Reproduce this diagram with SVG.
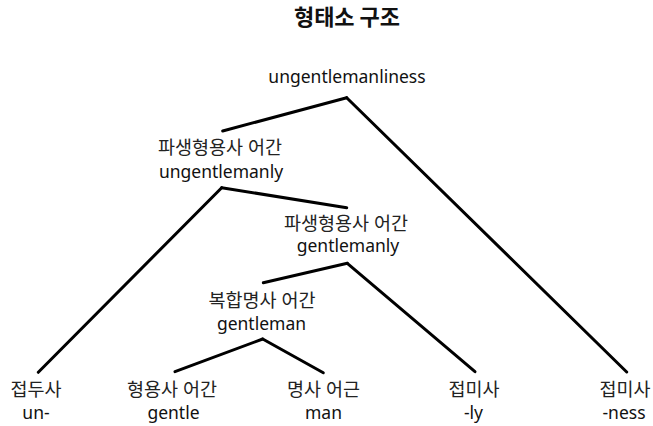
<svg xmlns="http://www.w3.org/2000/svg" width="653" height="426" viewBox="0 0 653 426">
<style>
text{font-family:"Noto Sans","Noto Sans CJK KR",sans-serif;text-anchor:middle;fill:#111}
.ko{font-size:18.5px;fill:#222}
.en{font-size:17.5px}
.title{font-family:"Noto Sans CJK KR",sans-serif;font-size:22px;font-weight:bold}
.edge{stroke:#000;stroke-width:3;stroke-linecap:round;fill:none}
</style>
<rect width="653" height="426" fill="#fff"/>
<text class="title" x="347" y="25">형태소 구조</text>
<g id="connectors">
<line class="edge" x1="346.7" y1="97.7" x2="222.7" y2="131"/>
<line class="edge" x1="346.7" y1="97.7" x2="626.7" y2="372"/>
<line class="edge" x1="221.7" y1="187.7" x2="38.3" y2="372.3"/>
<line class="edge" x1="221.7" y1="187.7" x2="346.7" y2="207.7"/>
<line class="edge" x1="347.3" y1="263.3" x2="263.3" y2="282.7"/>
<line class="edge" x1="347.3" y1="263.3" x2="475" y2="371.7"/>
<line class="edge" x1="262.7" y1="339" x2="175" y2="371.7"/>
<line class="edge" x1="262.7" y1="339" x2="323.3" y2="372.7"/>
</g>
<g id="root"><text class="en" x="347" y="83">ungentlemanliness</text></g>
<g id="ungentlemanly"><text class="ko" x="220" y="154">파생형용사 어간</text><text class="en" x="221" y="178">ungentlemanly</text></g>
<g id="gentlemanly"><text class="ko" x="346" y="230">파생형용사 어간</text><text class="en" x="348" y="252">gentlemanly</text></g>
<g id="gentleman"><text class="ko" x="262" y="307">복합명사 어간</text><text class="en" x="261.5" y="330">gentleman</text></g>
<g id="un"><text class="ko" x="36" y="396">접두사</text><text class="en" x="36" y="419">un-</text></g>
<g id="gentle"><text class="ko" x="172" y="396">형용사 어간</text><text class="en" x="173.5" y="419">gentle</text></g>
<g id="man"><text class="ko" x="323.5" y="396">명사 어근</text><text class="en" x="323.5" y="419">man</text></g>
<g id="ly"><text class="ko" x="474" y="396">접미사</text><text class="en" x="473.5" y="419">-ly</text></g>
<g id="ness"><text class="ko" x="625" y="396">접미사</text><text class="en" x="624" y="419">-ness</text></g>
</svg>
